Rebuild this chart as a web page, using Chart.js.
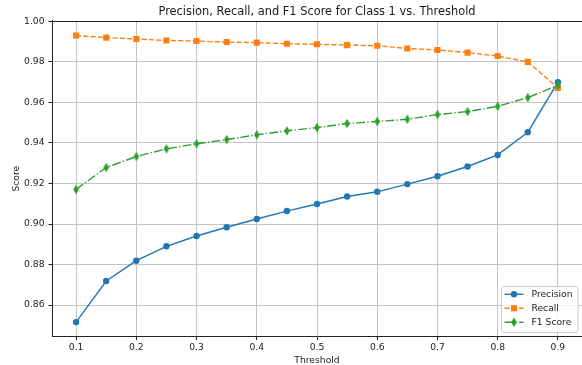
<!DOCTYPE html>
<html><head><meta charset="utf-8">
<script src="https://cdn.jsdelivr.net/npm/chart.js@4.4.1/dist/chart.umd.min.js"></script>
<style>html,body{margin:0;padding:0;overflow:hidden;background:#fff}canvas{display:block}</style>
</head><body>
<canvas id="c" width="582" height="365"></canvas>
<script>
const thresholds = [0.10,0.15,0.20,0.25,0.30,0.35,0.40,0.45,0.50,0.55,0.60,0.65,0.70,0.75,0.80,0.85,0.90];
const precision = [0.8516,0.8719,0.8819,0.8890,0.8941,0.8984,0.9025,0.9064,0.9099,0.9136,0.9159,0.9197,0.9236,0.9284,0.9341,0.9453,0.9700];
const recall = [0.9930,0.9920,0.9913,0.9906,0.9903,0.9898,0.9895,0.9890,0.9887,0.9883,0.9880,0.9866,0.9859,0.9846,0.9829,0.9800,0.9671];
const f1 = [0.9171,0.9279,0.9333,0.9371,0.9396,0.9417,0.9440,0.9460,0.9476,0.9496,0.9506,0.9517,0.9540,0.9555,0.9581,0.9624,0.9685];
const seriesNames = ['Precision','Recall','F1 Score'];
const xTickLabels = ['0.1','0.2','0.3','0.4','0.5','0.6','0.7','0.8','0.9'];
const yTickLabels = ['0.86','0.88','0.90','0.92','0.94','0.96','0.98','1.00'];
const titleText = 'Precision, Recall, and F1 Score for Class 1 vs. Threshold';
const xTitle = 'Threshold';
const yTitle = 'Score';

const C_BLUE = '#1f77b4', C_ORANGE = '#ff7f0e', C_GREEN = '#2ca02c';
const FAMILY = "'DejaVu Sans', 'Liberation Sans', sans-serif";
const SMALL = 9.2;

function thinDiamond(color){
  const c = document.createElement('canvas');
  c.width = 8; c.height = 11;
  const g = c.getContext('2d');
  g.fillStyle = color;
  g.beginPath();
  g.moveTo(4, 0.8); g.lineTo(6.8, 5.5); g.lineTo(4, 10.2); g.lineTo(1.2, 5.5);
  g.closePath(); g.fill();
  return c;
}
const diamond = thinDiamond(C_GREEN);

function pts(arr){ return thresholds.map((t,i)=>({x:t, y:arr[i]})); }

const topSpine = {
  id: 'topSpine',
  afterDatasetsDraw(chart){
    const {ctx, chartArea:a} = chart;
    ctx.save();
    ctx.strokeStyle = '#222'; ctx.lineWidth = 1;
    ctx.beginPath(); ctx.moveTo(a.left, Math.round(a.top)+0.5); ctx.lineTo(a.right, Math.round(a.top)+0.5); ctx.stroke();
    ctx.restore();
  }
};

const boxLegend = {
  id: 'boxLegend',
  afterDraw(chart){
    const ctx = chart.ctx;
    const x0 = 501, y0 = 286, w = 76.5, h = 46, r = 2.5;
    ctx.save();
    ctx.fillStyle = 'rgba(255,255,255,0.8)';
    ctx.strokeStyle = '#cccccc'; ctx.lineWidth = 1;
    ctx.beginPath();
    ctx.roundRect(x0+0.5, y0+0.5, w, h, r);
    ctx.fill(); ctx.stroke();
    chart.data.datasets.forEach((ds, i) => {
      const cy = 294.3 + i*14;
      ctx.strokeStyle = ds.borderColor; ctx.lineWidth = ds.borderWidth;
      ctx.setLineDash(ds.borderDash || []);
      ctx.beginPath(); ctx.moveTo(504.5, cy); ctx.lineTo(523.5, cy); ctx.stroke();
      ctx.setLineDash([]);
      const mx = 514;
      ctx.fillStyle = ds.backgroundColor;
      if (ds.pointStyle === 'circle') { ctx.beginPath(); ctx.arc(mx, cy, ds.pointRadius, 0, Math.PI*2); ctx.fill(); }
      else if (ds.pointStyle === 'rect') { const s = ds.pointRadius*Math.SQRT1_2; ctx.fillRect(mx-s, cy-s, 2*s, 2*s); }
      else { ctx.drawImage(ds.pointStyle, mx-4, cy-5.5); }
      ctx.fillStyle = '#222';
      ctx.font = SMALL + 'px ' + FAMILY;
      ctx.textBaseline = 'middle'; ctx.textAlign = 'left';
      ctx.fillText(ds.label, 531.5, cy);
    });
    ctx.restore();
  }
};

Chart.defaults.font.family = FAMILY;
Chart.defaults.color = '#222';

new Chart(document.getElementById('c'), {
  type: 'line',
  data: {
    datasets: [
      { label: seriesNames[0], data: pts(precision), borderColor: C_BLUE, backgroundColor: C_BLUE, borderWidth: 1.4,
        pointStyle: 'circle', pointRadius: 3.2, pointBorderWidth: 0, pointHoverRadius: 3.2, order: 2 },
      { label: seriesNames[1], data: pts(recall), borderColor: C_ORANGE, backgroundColor: C_ORANGE, borderWidth: 1.4,
        borderDash: [5.1, 2.2], pointStyle: 'rect', pointRadius: 4.3, pointBorderWidth: 0, pointHoverRadius: 4.3, order: 1 },
      { label: seriesNames[2], data: pts(f1), borderColor: C_GREEN, backgroundColor: C_GREEN, borderWidth: 1.4,
        borderDash: [8.8, 2.2, 1.4, 2.2], pointStyle: diamond, pointRadius: 4, pointBorderWidth: 0, order: 0 }
    ]
  },
  options: {
    responsive: false,
    animation: false,
    events: [],
    layout: { autoPadding: false, padding: { left: 0, right: 0, top: 0, bottom: 0 } },
    elements: { line: { tension: 0, fill: false } },
    plugins: {
      legend: { display: false },
      tooltip: { enabled: false },
      title: { display: true, fullSize: false, text: titleText, color: '#1a1a1a',
        font: { size: 11.4, weight: 'normal', family: FAMILY, lineHeight: 1.2 },
        padding: { top: 4.9, bottom: 2.4 } }
    },
    scales: {
      x: {
        type: 'linear', min: 0.06, max: 0.94,
        afterBuildTicks: s => { s.ticks = xTickLabels.map(l => ({ value: parseFloat(l) })); },
        afterFit: s => { s.height = 28.5; s.paddingLeft = 0; s.paddingRight = 0; },
        ticks: { callback: (v) => xTickLabels.find(l => Math.abs(parseFloat(l) - v) < 1e-9) || '',
          font: { size: SMALL }, padding: 1.6, maxRotation: 0, autoSkip: false, color: '#222' },
        grid: { color: '#c4c4c4', lineWidth: 1, tickLength: 3.5, tickColor: '#222', tickWidth: 1 },
        border: { display: true, color: '#222', width: 1 },
        title: { display: true, text: xTitle, color: '#222', font: { size: SMALL, lineHeight: 1.0 }, padding: { top: 0, bottom: 0.2 } }
      },
      y: {
        type: 'linear', min: 0.8445, max: 1.0002,
        afterBuildTicks: s => { s.ticks = yTickLabels.map(l => ({ value: parseFloat(l) })); },
        afterFit: s => { s.width = 52; s.paddingTop = 0; s.paddingBottom = 0; },
        ticks: { callback: (v) => yTickLabels.find(l => Math.abs(parseFloat(l) - v) < 1e-9) || '',
          font: { size: SMALL }, padding: 4, color: '#222' },
        grid: { color: '#c4c4c4', lineWidth: 1, tickLength: 3.5, tickColor: '#222', tickWidth: 1 },
        border: { display: true, color: '#222', width: 1 },
        title: { display: true, text: yTitle, color: '#222', font: { size: SMALL, lineHeight: 1.2 }, padding: { top: 10.8, bottom: 0 } }
      }
    }
  },
  plugins: [topSpine, boxLegend]
});
</script>
</body></html>
